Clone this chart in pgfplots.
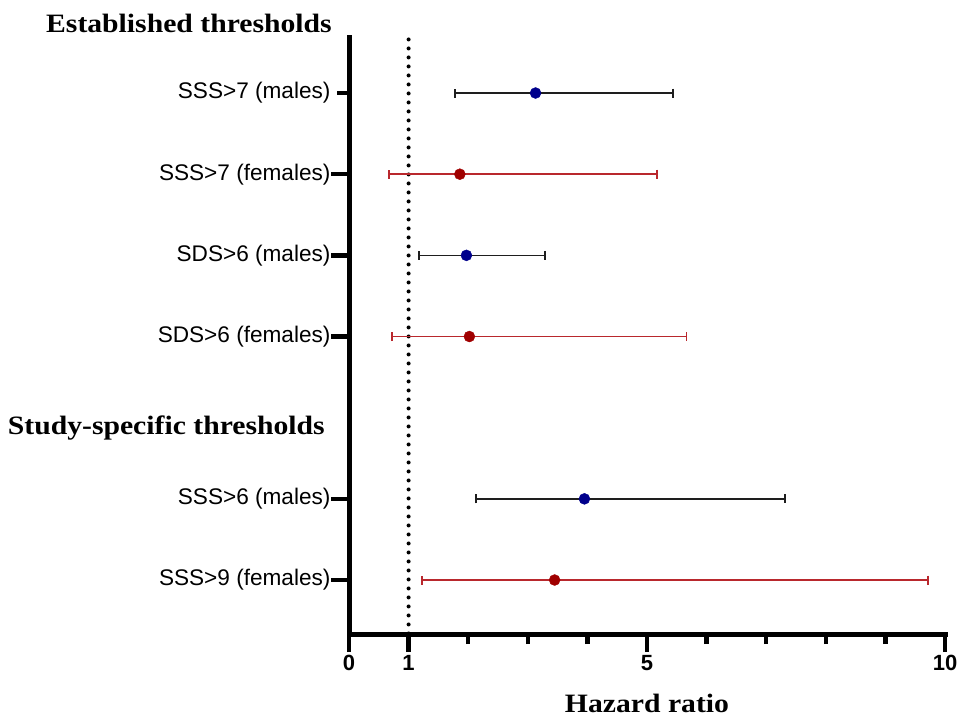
\documentclass[border=0pt]{standalone}
\usepackage{pgfplots}
\pgfplotsset{compat=1.18}
\usepackage{fontspec}
\usepackage{graphicx}
\setmainfont{Liberation Sans}
\newfontfamily\hdrfont{Liberation Serif}
\definecolor{navy}{RGB}{0,0,140}
\definecolor{markred}{RGB}{160,0,0}
\definecolor{barred}{RGB}{185,40,45}
\definecolor{bargray}{RGB}{30,30,30}
\newcommand\hdr[1]{\scalebox{1.12}[1]{\hdrfont\bfseries\fontsize{26.5}{30}\selectfont #1}}

\begin{document}
\begin{tikzpicture}
\useasboundingbox (0,0) rectangle (959pt,716pt);
\begin{axis}[
	at = {(349pt,82pt)}, anchor = south west,
	scale only axis,
	width = 596pt, height = 596pt,
	clip = false,
	xmin = 0, xmax = 10,
	ymin = 0.335, ymax = 7.678,
	axis x line = bottom, axis y line = left,
	axis line style = {-, line width=5pt, line cap=rect},
	xtick = {0,1,5,10}, xticklabels = {0,1,5,10},
	minor xtick = {2,3,4,6,7,8,9},
	ytick = {1,2,4,5,6,7},
	yticklabels = {SSS>9 (females), SSS>6 (males), SDS>6 (females), SDS>6 (males), SSS>7 (females), SSS>7 (males)},
	tick align = outside,
	major tick length = 18pt, minor tick length = 10pt,
	tick style = {line width=4.5pt, black},
	ytick style = {shorten <=6pt},
	xticklabel style = {font=\bfseries\fontsize{22}{22}\selectfont},
	yticklabel style = {font=\fontsize{22.6}{26}\selectfont, xshift=3pt},
	xlabel = {\hdr{Hazard ratio}},
	xlabel style = {at={(axis description cs:0.5,0)}, anchor=base, yshift=-78pt, inner sep=0pt},
]
	% reference line at HR = 1
	\addplot[line width=4pt, line cap=round, dash pattern=on 0pt off 9pt, forget plot]
		coordinates {(1,7.66) (1,0.34)};

	% males
	\addplot[only marks, mark=*, mark size=5.5pt, mark options={draw=navy, fill=navy},
		error bars/.cd, x dir=both, x explicit, error mark=|,
		error bar style={line width=1.6pt, draw=bargray},
		error mark options={line width=1.6pt, mark size=4.5pt, draw=bargray}]
	coordinates {
		(3.13,7) += (2.31,0) -= (1.35,0)
		(1.97,5) += (1.32,0) -= (0.80,0)
		(3.95,2) += (3.37,0) -= (1.82,0)
	};

	% females
	\addplot[only marks, mark=*, mark size=5.5pt, mark options={draw=markred, fill=markred},
		error bars/.cd, x dir=both, x explicit, error mark=|,
		error bar style={line width=1.6pt, draw=barred},
		error mark options={line width=1.6pt, mark size=4.5pt, draw=barred}]
	coordinates {
		(1.86,6) += (3.31,0) -= (1.19,0)
		(2.02,4) += (3.64,0) -= (1.30,0)
		(3.45,1) += (6.26,0) -= (2.23,0)
	};
\end{axis}
\node[anchor=base east, inner sep=0pt] at (332pt,683pt) {\hdr{Established thresholds}};
\node[anchor=base east, inner sep=0pt] at (325pt,281pt) {\hdr{Study-specific thresholds}};
\end{tikzpicture}
\end{document}
